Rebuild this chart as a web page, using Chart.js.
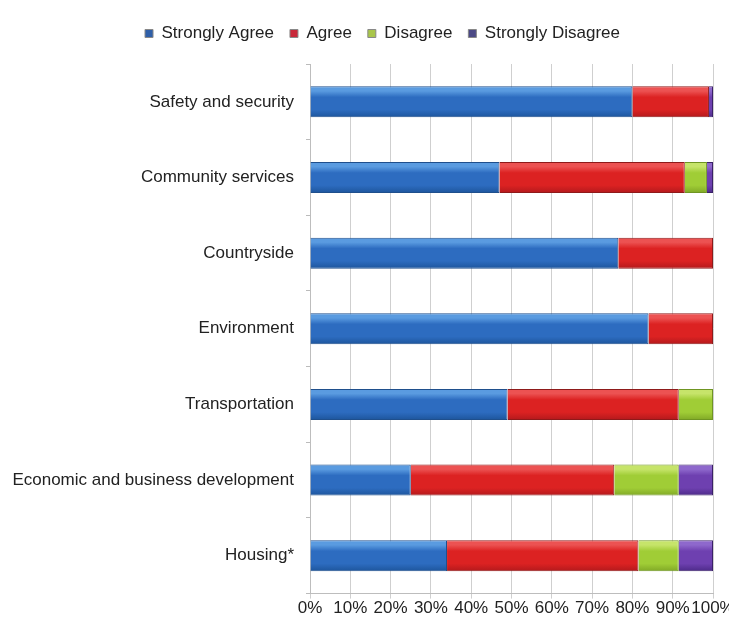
<!DOCTYPE html>
<html>
<head>
<meta charset="utf-8">
<script src="https://cdn.jsdelivr.net/npm/chart.js@4"></script>
<style>
html,body{margin:0;padding:0;background:#fff;}
#wrap{width:729px;height:619px;}
</style>
</head>
<body>
<div id="wrap"><canvas id="c" width="729" height="619"></canvas></div>
<script>
const categories = ["Safety and security","Community services","Countryside","Environment","Transportation","Economic and business development","Housing*"];
const stronglyAgree = [80, 47, 76.5, 84, 49, 25, 34];
const agree = [19, 46, 23.5, 16, 42.5, 50.5, 47.5];
const disagree = [0, 5.5, 0, 0, 8.5, 16, 10];
const stronglyDisagree = [1, 1.5, 0, 0, 0, 8.5, 8.5];
const xTicks = ["0%","10%","20%","30%","40%","50%","60%","70%","80%","90%","100%"];

const FONT = "'Liberation Sans', Arial, sans-serif";
const FS = 17;
const ctx = document.getElementById('c').getContext('2d');

function grad(c1, c2, c3) {
  return function(context) {
    const chart = context.chart;
    const el = context.element;
    if (!el || !chart.chartArea) return c2;
    const h = Number.isFinite(el.height) && el.height > 0 ? el.height : 0;
    const y0 = el.y - h / 2;
    if (!h || !Number.isFinite(y0)) return c2;
    const g = chart.ctx.createLinearGradient(0, y0, 0, y0 + h);
    g.addColorStop(0, c1);
    g.addColorStop(0.15, c1);
    g.addColorStop(0.35, c2);
    g.addColorStop(0.75, c2);
    g.addColorStop(1, c3);
    return g;
  };
}

const legendShift = {
  id: 'legendShift',
  afterLayout(chart) {
    const l = chart.legend;
    if (!l) return;
    l.left += 52;
    l.top -= 12;
    l.bottom -= 12;
  }
};

const chart = new Chart(ctx, {
  type: 'bar',
  plugins: [legendShift],
  data: {
    labels: categories,
    datasets: [
      {label: "Strongly Agree", data: stronglyAgree, backgroundColor: grad('#5a9be0','#2d6cc0','#1d559c'), borderColor: '#1f4f8c', borderWidth: 1, borderSkipped: 'start', legendColor: '#2f5fa8'},
      {label: "Agree", data: agree, backgroundColor: grad('#ec5252','#dc2222','#b3191c'), borderColor: '#8e1a1a', borderWidth: 1, borderSkipped: 'start', legendColor: '#c8283a'},
      {label: "Disagree", data: disagree, backgroundColor: grad('#c6e46a','#a0cd36','#80a826'), borderColor: '#6f9522', borderWidth: 1, borderSkipped: 'start', legendColor: '#a9c64a'},
      {label: "Strongly Disagree", data: stronglyDisagree, backgroundColor: grad('#8e68cc','#6e40b0','#4c2a88'), borderColor: '#3a2068', borderWidth: 1, borderSkipped: 'start', legendColor: '#4c4a86'}
    ]
  },
  options: {
    indexAxis: 'y',
    responsive: false,
    animation: false,
    devicePixelRatio: 1,
    layout: {padding: {top: 21, left: 0, right: 16, bottom: 0}},
    datasets: {bar: {barPercentage: 0.41, categoryPercentage: 1.0}},
    plugins: {
      tooltip: {enabled: false},
      legend: {
        position: 'top',
        labels: {
          font: {family: FONT, size: FS},
          color: '#222',
          boxWidth: 8,
          boxHeight: 8,
          padding: 16,
          generateLabels: function(chart) {
            return chart.data.datasets.map((ds, i) => ({
              text: ds.label,
              fillStyle: ds.legendColor,
              strokeStyle: '#888',
              lineWidth: 1,
              hidden: false,
              datasetIndex: i,
              fontColor: '#222'
            }));
          }
        }
      }
    },
    scales: {
      x: {
        stacked: true,
        min: 0,
        max: 100,
        afterBuildTicks: function(scale) {
          scale.ticks = xTicks.map((t, i) => ({value: i * 10}));
        },
        afterFit: function(scale) { scale.paddingRight = 0; scale.paddingLeft = 0; },
        ticks: {
          font: {family: FONT, size: FS},
          color: '#222',
          padding: 0,
          maxRotation: 0,
          autoSkip: false,
          callback: function(v, i) { return xTicks[i]; }
        },
        grid: {color: '#cfcfcf', tickLength: 5, drawTicks: true},
        border: {color: '#bdbdbd'}
      },
      y: {
        stacked: true,
        afterFit: function(scale) { scale.width = 310; },
        ticks: {
          font: {family: FONT, size: FS},
          color: '#222',
          padding: 12
        },
        grid: {display: true, drawOnChartArea: false, tickLength: 4, offset: true, color: '#bbb'},
        border: {color: '#bdbdbd'}
      }
    }
  }
});
chart.update();
</script>
</body>
</html>
